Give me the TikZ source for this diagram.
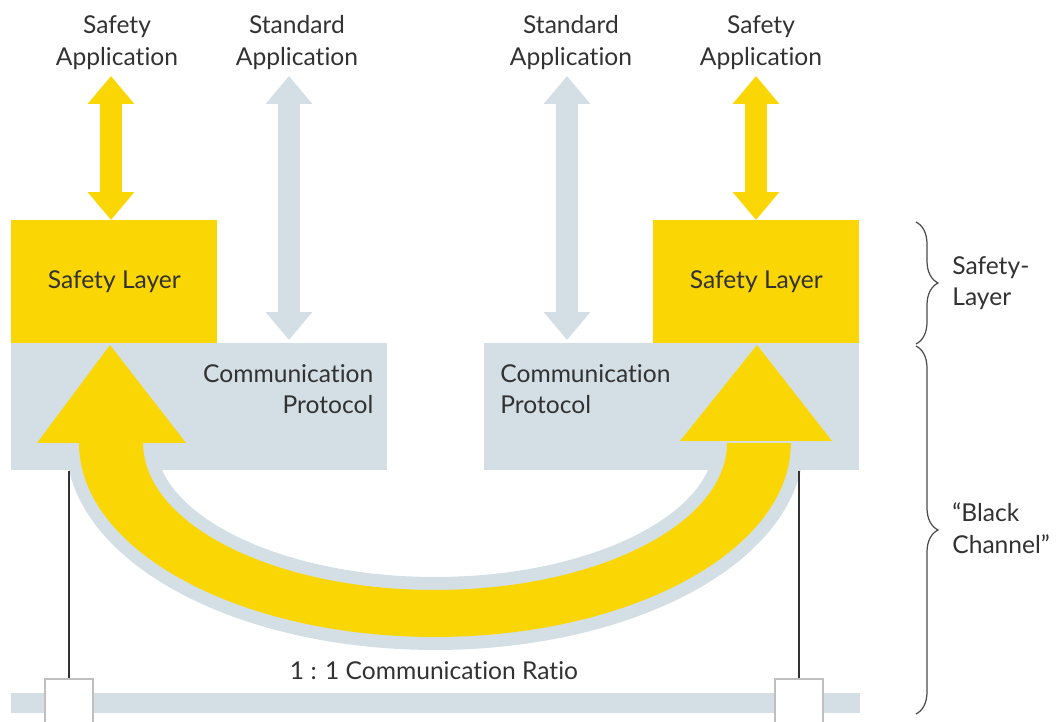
\documentclass[tikz,border=0pt]{standalone}
\usepackage{fontspec}
\setmainfont{Lato}[Ligatures={NoCommon}]
\usepackage{tikz}
\usetikzlibrary{calc, arrows.meta, decorations.pathreplacing, positioning}
\definecolor{safeyellow}{RGB}{250,214,5}
\definecolor{protogrey}{RGB}{211,223,229}
\definecolor{inkgrey}{RGB}{50,50,50}
\tikzset{
    layernode/.style = {rectangle, fill=safeyellow, inner sep = 0em, anchor=north west,
      minimum width=4.12cm, minimum height=2.46cm, text=inkgrey, font=\fontsize{14pt}{18pt}\selectfont},
    protonode/.style = {rectangle, fill=protogrey, inner sep = 0em, anchor=north west, minimum height=2.54cm},
    textnode/.style  = {draw=none, fill=none, rectangle, inner sep = 0em, align=center,
      text=inkgrey, font=\fontsize{14pt}{18pt}\selectfont},
    busnode/.style = {rectangle, fill=protogrey, inner sep = 0em, minimum width=16.98cm, minimum height=0.4cm},
    squarenode/.style = {draw=black!25, fill=white, rectangle, minimum size=0.96cm, inner sep = 0em, line width=0.6pt},
    safearrow/.style = {safeyellow, line width=0.44cm,
      {Triangle[width=0.9cm, length=0.56cm]}-{Triangle[width=0.9cm, length=0.56cm]}},
    stdarrow/.style = {protogrey, line width=0.44cm,
      {Triangle[width=0.9cm, length=0.56cm]}-{Triangle[width=0.9cm, length=0.56cm]}},
    rim/.style = {protogrey, line width=0.52cm, line join=round},
    wire/.style = {inkgrey, line width=1.1pt},
    bracket/.style = {black!70, line width=0.7pt, decorate, decoration={brace, amplitude=0.44cm}}
}
% outline of the yellow loop (px grid, y downwards)
\newcommand{\loopband}{(79,443) arc [start angle=180, end angle=360, x radius=7.12cm, y radius=3.88cm]
    -- (727,443) arc [start angle=360, end angle=180, x radius=5.84cm, y radius=2.94cm] -- cycle}

\begin{document}
\begin{tikzpicture}[x=0.02cm, y=-0.02cm]
    \useasboundingbox (0,0) rectangle (1061,722);
    \clip (0,0) rectangle (1061,722);

    \node [name=protoL, protonode, minimum width=7.52cm] at (11,343) {};
    \node [name=protoR, protonode, minimum width=7.50cm] at (484,343) {};
    \node [name=safetyL, layernode] at (11,220) {Safety Layer};
    \node [name=safetyR, layernode] at (653,220) {Safety Layer};

    \node [name=protoLtext, textnode, align=right, anchor=north east, xshift=-0.28cm, yshift=-0.42cm]
        at (protoL.north east) {Communication\\Protocol};
    \node [name=protoRtext, textnode, align=left, anchor=north west, xshift=0.32cm, yshift=-0.42cm]
        at (protoR.north west) {Communication\\Protocol};

    \node [name=appL, textnode, anchor=south] at (117,70) {Safety\\Application};
    \node [name=stdL, textnode, anchor=south] at (297,70) {Standard\\Application};
    \node [name=stdR, textnode, anchor=south] at (571,70) {Standard\\Application};
    \node [name=appR, textnode, anchor=south] at (761,70) {Safety\\Application};

    \draw [safearrow] ([xshift=-0.12cm, yshift=-0.12cm]appL.south) -- ([xshift=-0.12cm]appL.south |- safetyL.north);
    \draw [stdarrow] ([xshift=-0.16cm, yshift=-0.12cm]stdL.south) -- ([xshift=-0.16cm, yshift=0.06cm]stdL.south |- protoL.north);
    \draw [stdarrow] ([xshift=-0.08cm, yshift=-0.12cm]stdR.south) -- ([xshift=-0.08cm, yshift=0.06cm]stdR.south |- protoR.north);
    \draw [safearrow] ([xshift=-0.1cm, yshift=-0.12cm]appR.south) -- ([xshift=-0.1cm]appR.south |- safetyR.north);

    % loop under the two stacks: light rim first, yellow band on top
    \draw [rim] \loopband;
    \fill [safeyellow] \loopband;
    \fill [safeyellow] (37,443) -- (110,345) -- (186,443) -- cycle;
    \fill [safeyellow] (680,441) -- (757,345) -- (832,441) -- cycle;

    \node [name=bus, busnode] at (435.5,703) {};
    \node [name=portL, squarenode] at (69,703) {};
    \node [name=portR, squarenode] at (799,703) {};
    \draw [wire] (portL.north |- protoL.south) -- (portL.north);
    \draw [wire] (portR.north |- protoR.south) -- (portR.north);
    \node [name=ratio, textnode] at (434,671) {1 : 1 Communication Ratio};

    \draw [bracket] (916,222) -- (916,344);
    \draw [bracket] (916,346) -- (916,714);
    \node [name=layerlbl, textnode, align=left, anchor=west] at (952,283) {Safety-\\Layer};
    \node [name=channellbl, textnode, align=left, anchor=west] at (952,528) {“Black\\Channel”};
\end{tikzpicture}
\end{document}
